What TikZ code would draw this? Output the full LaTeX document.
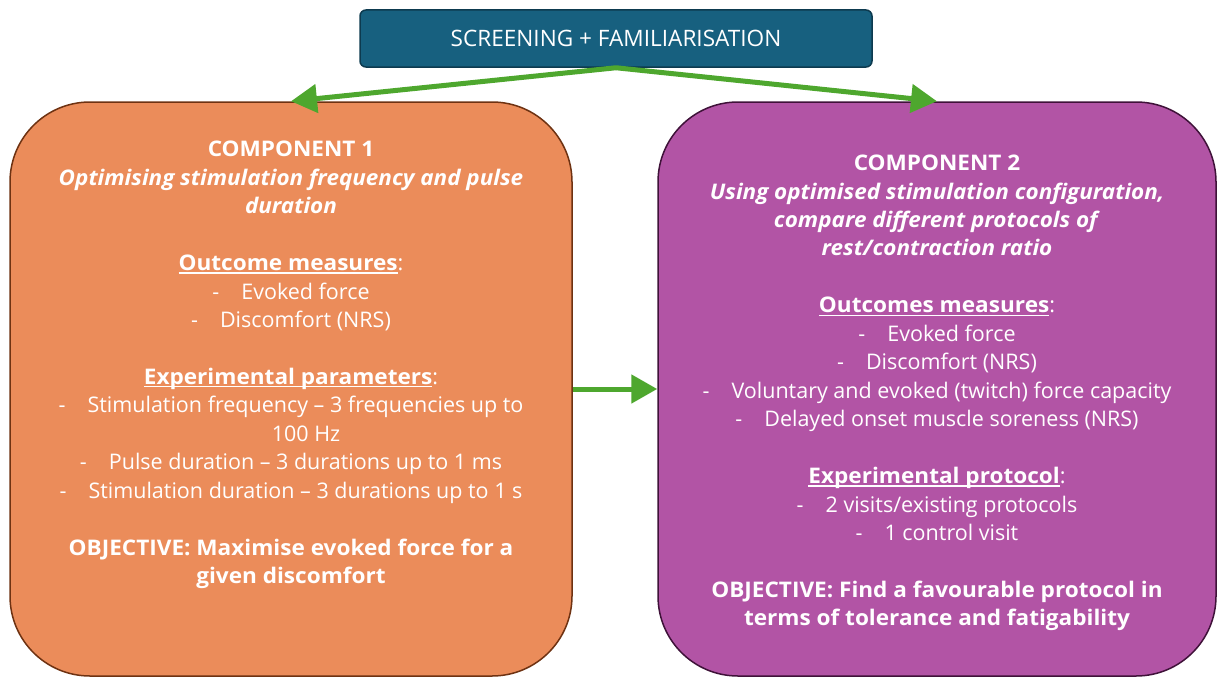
\documentclass[tikz,border=0pt]{standalone}
\usepackage{fontspec}
\setmainfont{Open Sans}[BoldFeatures={FakeStretch=1.05}, BoldItalicFeatures={FakeStretch=1.045}]
\usetikzlibrary{arrows.meta}
\definecolor{topblue}{HTML}{17607F}
\definecolor{topedge}{HTML}{0D3A4F}
\definecolor{orangefill}{HTML}{EB8C5A}
\definecolor{orangeedge}{HTML}{6E3212}
\definecolor{purplefill}{HTML}{B254A5}
\definecolor{purpleedge}{HTML}{3F1239}
\definecolor{arrowgreen}{HTML}{4EA72E}
\newcommand\myul[1]{\setbox0\hbox{#1}\rlap{\rule[-3pt]{\wd0}{1.2pt}}\box0}
\newcommand\dashitem[1]{-\hspace{22pt}#1}
\begin{document}
\begin{tikzpicture}[x=1pt,y=-1pt,
  boxtext/.style={text=white, align=center, font=\fontsize{21.5}{28.45}\selectfont, inner sep=0pt},
  compbox/.style={line width=1.5pt, rounded corners=80pt, minimum height=574pt},
  flowarrow/.style={draw=arrowgreen, line width=5pt, -{Triangle[length=26pt,width=28pt]}},
]
\useasboundingbox (0,0) rectangle (1217,677);
\node[draw=topedge, fill=topblue, line width=1.5pt, rounded corners=6pt, minimum width=512pt, minimum height=57pt, text=white, font=\fontsize{22.6}{26}\selectfont] (top) at (616,38.5) {SCREENING + FAMILIARISATION};
\node[compbox, draw=orangeedge, fill=orangefill, minimum width=562pt] (c1) at (291,389) {};
\node[compbox, draw=purpleedge, fill=purplefill, minimum width=558pt] (c2) at (937,389) {};
\node[boxtext] (t1) at (291,365) {\textbf{COMPONENT 1}\\
\textbf{\textit{Optimising stimulation frequency and pulse}}\\
\textbf{\textit{duration}}\\[28.45pt]
\myul{\textbf{Outcome measures}}:\\
\dashitem{Evoked force}\\
\dashitem{Discomfort (NRS)}\\[28.45pt]
\myul{\textbf{Experimental parameters}}:\\
\dashitem{Stimulation frequency – 3 frequencies up to}\\
\hspace*{30pt}100 Hz\\
\dashitem{Pulse duration – 3 durations up to 1 ms}\\
\dashitem{Stimulation duration – 3 durations up to 1 s}\\[28.45pt]
\textbf{OBJECTIVE: Maximise evoked force for a}\\
\textbf{given discomfort}};
\node[boxtext] (t2) at (937,393) {\textbf{COMPONENT 2}\\
\textbf{\textit{Using optimised stimulation configuration,}}\\
\textbf{\textit{compare different protocols of}}\\
\textbf{\textit{rest/contraction ratio}}\\[28.45pt]
\myul{\textbf{Outcomes measures}}:\\
\dashitem{Evoked force}\\
\dashitem{Discomfort (NRS)}\\
\dashitem{Voluntary and evoked (twitch) force capacity}\\
\dashitem{Delayed onset muscle soreness (NRS)}\\[28.45pt]
\myul{\textbf{Experimental protocol}}:\\
\dashitem{2 visits/existing protocols}\\
\dashitem{1 control visit}\\[28.45pt]
\textbf{OBJECTIVE: Find a favourable protocol in}\\
\textbf{terms of tolerance and fatigability}};
\draw[flowarrow] (top.south) -- (c1.north);
\draw[flowarrow] (top.south) -- (c2.north);
\draw[flowarrow] (c1.east) -- (c2.west);
\end{tikzpicture}
\end{document}
